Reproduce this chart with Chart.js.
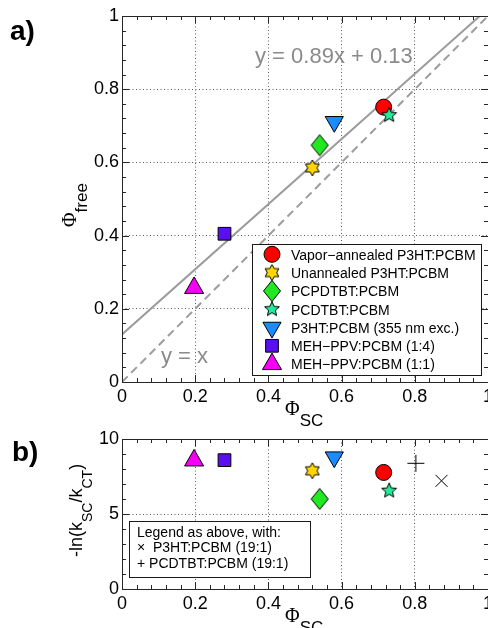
<!DOCTYPE html>
<html>
<head>
<meta charset="utf-8">
<script src="https://cdn.jsdelivr.net/npm/chart.js@4.4.1/dist/chart.umd.min.js"></script>
<style>
  html, body { margin: 0; padding: 0; width: 488px; height: 628px; overflow: hidden; background: #fff; }
  canvas { position: absolute; left: 0; }
  #chartA { top: 0; width: 520px; height: 420px; }
  #chartB { top: 420px; width: 520px; height: 208px; }
  .lbl { position: absolute; white-space: nowrap; color: #000; z-index: 2;
         font-family: 'Liberation Sans', Arial, Helvetica, sans-serif; }
  .panel { font-weight: bold; font-size: 28px; line-height: 28px; }
  .phi { font-family: 'Liberation Serif', 'Times New Roman', serif; font-size: 20px; }
  .sub { position: relative; }
  .rot { transform-origin: 0 0; transform: rotate(-90deg); }
</style>
</head>
<body>
<canvas id="chartA" width="520" height="420"></canvas>
<canvas id="chartB" width="520" height="208"></canvas>

<div class="lbl panel" style="left:10px; top:17px;">a)</div>
<div class="lbl panel" style="left:12px; top:438px;">b)</div>

<div class="lbl" style="left:285px; top:398px; line-height:20px;"><span class="phi">Φ</span><span class="sub" style="font-size:17px; top:11px;">SC</span></div>
<div class="lbl" style="left:285px; top:605px; line-height:20px;"><span class="phi">Φ</span><span class="sub" style="font-size:17px; top:11px;">SC</span></div>

<div class="lbl rot" style="left:59px; top:227px; line-height:20px;"><span class="phi">Φ</span><span class="sub" style="font-size:17px; top:11px;">free</span></div>
<div class="lbl rot" style="left:66px; top:557px; line-height:20px; font-size:18px;">-ln(k<span class="sub" style="font-size:14px; top:10px;">SC</span>/k<span class="sub" style="font-size:14px; top:10px;">CT</span>)</div>

<script>
const FONT = "'Liberation Sans', Arial, Helvetica, sans-serif";

// the seven blends, same order as the legend
const blendNames = ['Vapor−annealed P3HT:PCBM', 'Unannealed P3HT:PCBM', 'PCPDTBT:PCBM', 'PCDTBT:PCBM',
                    'P3HT:PCBM (355 nm exc.)', 'MEH−PPV:PCBM (1:4)', 'MEH−PPV:PCBM (1:1)'];
const phiSC   = [0.715, 0.52, 0.54, 0.73, 0.58, 0.28, 0.197];
const phiFree = [0.751, 0.585, 0.647, 0.729, 0.711, 0.405, 0.257];
const lnRatio = [7.77, 7.88, 6.0, 6.55, 8.79, 8.59, 8.57];

// extra 19:1 blends, panel b only
const extraNames = ['P3HT:PCBM (19:1)', 'PCDTBT:PCBM (19:1)'];
const extraSC = [0.873, 0.803];
const extraLn = [7.21, 8.38];

// guide lines in panel a
const fitX = [0, 1];
const fitY = [0.13, 1.02];
const unityX = [0, 1];
const unityY = [0, 1];

// tick labels
const xTickValues  = [0, 0.2, 0.4, 0.6, 0.8, 1];
const yTickValuesA = [0, 0.2, 0.4, 0.6, 0.8, 1];
const yTickValuesB = [0, 5, 10];

const blendColors = ['#ff0000', '#ffd700', '#22e822', '#22eb99', '#1a8cff', '#5a0ff0', '#f500f5'];

function starCanvas(points, outerR, innerR, fill) {
  const size = Math.ceil(outerR * 2 + 4);
  const c = document.createElement('canvas');
  c.width = size; c.height = size;
  const g = c.getContext('2d');
  g.translate(size / 2, size / 2);
  g.beginPath();
  for (let i = 0; i < points * 2; i++) {
    const r = i % 2 ? innerR : outerR;
    const a = -Math.PI / 2 + i * Math.PI / points;
    g.lineTo(r * Math.cos(a), r * Math.sin(a));
  }
  g.closePath();
  g.fillStyle = fill; g.fill();
  g.lineWidth = 1; g.strokeStyle = '#000'; g.stroke();
  return c;
}

function diamondCanvas(hw, hh, fill) {
  const c = document.createElement('canvas');
  c.width = Math.ceil(hw * 2 + 3); c.height = Math.ceil(hh * 2 + 3);
  const g = c.getContext('2d');
  g.translate(c.width / 2, c.height / 2);
  g.beginPath();
  g.moveTo(0, -hh); g.lineTo(hw, 0); g.lineTo(0, hh); g.lineTo(-hw, 0);
  g.closePath();
  g.fillStyle = fill; g.fill();
  g.lineWidth = 1; g.strokeStyle = '#000'; g.stroke();
  return c;
}

const markerStyles = [
  { pointStyle: 'circle', radius: 8 },
  { pointStyle: starCanvas(6, 8, 4.6, blendColors[1]), radius: 7 },
  { pointStyle: diamondCanvas(8.5, 10.5, blendColors[2]), radius: 7 },
  { pointStyle: starCanvas(5, 7.8, 3.5, blendColors[3]), radius: 7 },
  { pointStyle: 'triangle', rotation: 180, radius: 10.5 },
  { pointStyle: 'rect', radius: 9 },
  { pointStyle: 'triangle', radius: 11 }
];

function blendDatasets(yValues) {
  return blendNames.map((name, i) => ({
    label: name,
    data: [{ x: phiSC[i], y: yValues[i] }],
    pointStyle: markerStyles[i].pointStyle,
    pointRotation: markerStyles[i].rotation || 0,
    pointRadius: markerStyles[i].radius,
    pointHoverRadius: markerStyles[i].radius,
    pointBackgroundColor: blendColors[i],
    pointBorderColor: '#000',
    pointBorderWidth: 1,
    order: 10 - i
  }));
}

function drawMarker(ctx, i, x, y) {
  const m = markerStyles[i];
  ctx.fillStyle = blendColors[i];
  ctx.strokeStyle = '#000';
  ctx.lineWidth = 1;
  Chart.helpers.drawPoint(ctx, { pointStyle: m.pointStyle, rotation: m.rotation || 0, radius: m.radius, borderWidth: 1 }, x, y);
}

const tickText = v => String(+Number(v).toFixed(2));

function xAxis(height) {
  return {
    type: 'linear', min: 0, max: 1,
    afterBuildTicks: s => { s.ticks = xTickValues.map(v => ({ value: v })); },
    afterFit: s => { s.height = height; },
    ticks: { color: '#000', font: { family: FONT, size: 18 }, padding: 4, maxRotation: 0, autoSkip: false,
             callback: tickText },
    grid: { color: c => (c.tick && (c.tick.value === 0 || c.tick.value === 1)) ? 'rgba(0,0,0,0)' : '#5a5a5a',
            lineWidth: 1, drawTicks: false },
    border: { display: false, dash: [1, 2.5] }
  };
}

function yAxis(min, max, values) {
  return {
    type: 'linear', min: min, max: max,
    afterBuildTicks: s => { s.ticks = values.map(v => ({ value: v })); },
    afterFit: s => { s.width = 122; },
    ticks: { color: '#000', font: { family: FONT, size: 18 }, padding: 3, autoSkip: false,
             callback: tickText },
    grid: { color: c => (c.tick && (c.tick.value === min || c.tick.value === max)) ? 'rgba(0,0,0,0)' : '#5a5a5a',
            lineWidth: 1, drawTicks: false },
    border: { display: false, dash: [1, 2.5] }
  };
}

// box round the plot with inward major/minor ticks on all four sides
const framePlugin = {
  id: 'frame',
  afterDatasetsDraw(chart, args, opts) {
    const { ctx, chartArea: a, scales: { x, y } } = chart;
    ctx.save();
    ctx.strokeStyle = '#262626';
    ctx.lineWidth = 1;
    ctx.beginPath();
    const nx = Math.round((x.max - x.min) / opts.xMinor);
    for (let i = 0; i <= nx; i++) {
      const px = Math.round(x.getPixelForValue(x.min + i * opts.xMinor)) + 0.5;
      const len = i % opts.xEvery === 0 ? 7 : 4;
      ctx.moveTo(px, a.bottom); ctx.lineTo(px, a.bottom - len);
      ctx.moveTo(px, a.top); ctx.lineTo(px, a.top + len);
    }
    const ny = Math.round((y.max - y.min) / opts.yMinor);
    for (let i = 0; i <= ny; i++) {
      const py = Math.round(y.getPixelForValue(y.min + i * opts.yMinor)) + 0.5;
      const len = i % opts.yEvery === 0 ? 7 : 4;
      ctx.moveTo(a.left, py); ctx.lineTo(a.left + len, py);
      ctx.moveTo(a.right, py); ctx.lineTo(a.right - len, py);
    }
    ctx.stroke();
    ctx.strokeRect(Math.round(a.left) + 0.5, Math.round(a.top) + 0.5,
                   Math.round(a.right - a.left), Math.round(a.bottom - a.top));
    ctx.restore();
  }
};

const legendA = {
  id: 'legendA',
  afterDraw(chart) {
    const ctx = chart.ctx;
    ctx.save();
    ctx.fillStyle = '#fff';
    ctx.fillRect(252, 244, 229, 131);
    ctx.strokeStyle = '#1a1a1a';
    ctx.lineWidth = 1;
    ctx.strokeRect(252.5, 244.5, 229, 131);
    ctx.font = '14px ' + FONT;
    ctx.textBaseline = 'alphabetic';
    blendNames.forEach((name, i) => {
      const cy = 254.3 + i * 18.3;
      drawMarker(ctx, i, 272, cy);
      ctx.fillStyle = '#000';
      ctx.fillText(name, 291, cy + 5.3);
    });
    ctx.fillStyle = '#8a8a8a';
    ctx.font = '22px ' + FONT;
    ctx.fillText('y = 0.89x + 0.13', 255, 63);
    ctx.fillText('y = x', 161, 363);
    ctx.restore();
  }
};

const legendB = {
  id: 'legendB',
  afterDraw(chart) {
    const ctx = chart.ctx;
    ctx.save();
    ctx.fillStyle = '#fff';
    ctx.fillRect(130, 101, 181, 56);
    ctx.strokeStyle = '#1a1a1a';
    ctx.lineWidth = 1;
    ctx.strokeRect(129.5, 101.5, 181, 56);
    ctx.fillStyle = '#000';
    ctx.font = '14px ' + FONT;
    ctx.fillText('Legend as above, with:', 137, 116.5);
    ctx.fillText('×  ' + extraNames[0], 137, 132);
    ctx.fillText('+ ' + extraNames[1], 137, 148);
    ctx.restore();
  }
};

new Chart(document.getElementById('chartA'), {
  type: 'scatter',
  data: {
    datasets: blendDatasets(phiFree).concat([
      { type: 'line', label: 'fit', data: fitX.map((x, i) => ({ x: x, y: fitY[i] })),
        borderColor: '#9c9c9c', borderWidth: 2, pointRadius: 0, fill: false, clip: 0, order: 100 },
      { type: 'line', label: 'y = x', data: unityX.map((x, i) => ({ x: x, y: unityY[i] })),
        borderColor: '#9c9c9c', borderWidth: 2, borderDash: [8, 5], pointRadius: 0, fill: false, clip: 0, order: 101 }
    ])
  },
  options: {
    responsive: false, animation: false, events: [],
    layout: { autoPadding: false, padding: { left: 0, top: 16, right: 32, bottom: 0 } },
    plugins: {
      legend: { display: false }, tooltip: { enabled: false },
      frame: { xMinor: 0.04, xEvery: 5, yMinor: 0.04, yEvery: 5 }
    },
    scales: { x: xAxis(38), y: yAxis(0, 1, yTickValuesA) }
  },
  plugins: [framePlugin, legendA]
});

new Chart(document.getElementById('chartB'), {
  type: 'scatter',
  data: {
    datasets: blendDatasets(lnRatio).concat([
      { label: extraNames[0], data: [{ x: extraSC[0], y: extraLn[0] }], pointStyle: 'crossRot',
        pointRadius: 8.5, pointBorderColor: '#000', pointBorderWidth: 1, order: 1 },
      { label: extraNames[1], data: [{ x: extraSC[1], y: extraLn[1] }], pointStyle: 'cross',
        pointRadius: 8.5, pointBorderColor: '#000', pointBorderWidth: 1, order: 1 }
    ])
  },
  options: {
    responsive: false, animation: false, events: [],
    layout: { autoPadding: false, padding: { left: 0, top: 19, right: 32, bottom: 0 } },
    plugins: {
      legend: { display: false }, tooltip: { enabled: false },
      frame: { xMinor: 0.04, xEvery: 5, yMinor: 1, yEvery: 5 }
    },
    scales: { x: xAxis(39), y: yAxis(0, 10, yTickValuesB) }
  },
  plugins: [framePlugin, legendB]
});
</script>
</body>
</html>
